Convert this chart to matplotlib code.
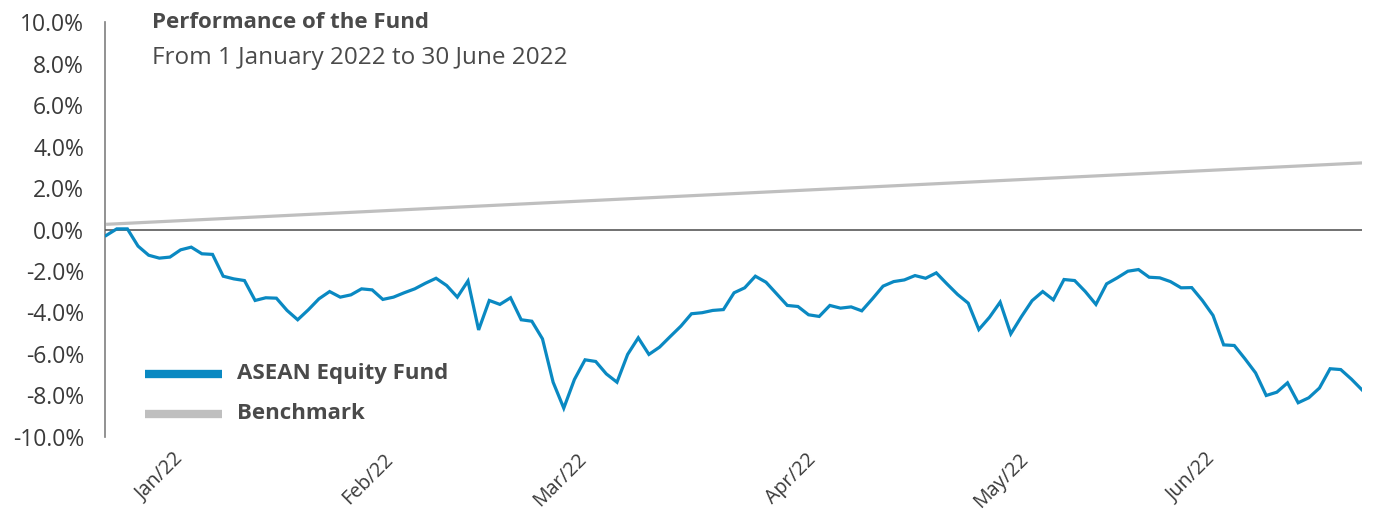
import matplotlib
matplotlib.use("Agg")
import matplotlib.pyplot as plt
from matplotlib.lines import Line2D

plt.rcParams['font.family'] = ['Open Sans', 'DejaVu Sans']

# ---- data (percent returns) ----
fund = [
    -0.29, 0.03, 0.03, -0.80, -1.24, -1.38, -1.33, -0.98, -0.85, -1.17,
    -1.20, -2.25, -2.38, -2.46, -3.42, -3.29, -3.31, -3.90, -4.35, -3.87,
    -3.34, -2.99, -3.26, -3.15, -2.86, -2.91, -3.37, -3.26, -3.05, -2.86,
    -2.59, -2.35, -2.70, -3.26, -2.48, -4.84, -3.42, -3.61, -3.29, -4.35,
    -4.42, -5.27, -7.36, -8.61, -7.23, -6.28, -6.36, -6.96, -7.36, -6.02,
    -5.22, -6.02, -5.67, -5.16, -4.66, -4.06, -4.01, -3.90, -3.86, -3.05,
    -2.81, -2.25, -2.54, -3.10, -3.66, -3.71, -4.11, -4.19, -3.66, -3.79,
    -3.73, -3.92, -3.34, -2.73, -2.51, -2.43, -2.22, -2.35, -2.09, -2.62,
    -3.13, -3.55, -4.82, -4.23, -3.50, -5.03, -4.20, -3.43, -2.99, -3.39,
    -2.41, -2.46, -2.99, -3.61, -2.62, -2.33, -2.01, -1.93, -2.30, -2.33,
    -2.51, -2.81, -2.80, -3.42, -4.14, -5.56, -5.59, -6.23, -6.91, -8.00,
    -7.84, -7.39, -8.35, -8.11, -7.64, -6.71, -6.75, -7.21, -7.73,
]
bench_start = 0.25
bench_end = 3.21

month_labels = ["Jan/22", "Feb/22", "Mar/22", "Apr/22", "May/22", "Jun/22"]
y_ticks = [10, 8, 6, 4, 2, 0, -2, -4, -6, -8, -10]

series_names = ["ASEAN Equity Fund", "Benchmark"]

# ---- style ----
BLUE = "#0a89c2"
GREY = "#bfbfbf"
TXT = "#4a4a4a"

fig = plt.figure(figsize=(13.73, 5.12), dpi=100)
ax = fig.add_axes([0.0765, 0.1465, 0.9155, 0.8105])

n = len(fund)
xs = list(range(n))
ax.plot([0, n - 1], [bench_start, bench_end], color=GREY, lw=2.3, solid_capstyle='butt', zorder=2)
ax.axhline(0, color="#595959", lw=1.2, zorder=3)
ax.plot(xs, fund, color=BLUE, lw=2.3, solid_joinstyle='miter', zorder=4)

ax.set_xlim(-0.1, n - 1)
ax.set_ylim(-10, 10)

for s in ["top", "right", "bottom"]:
    ax.spines[s].set_visible(False)
ax.spines["left"].set_color("#7f7f7f")
ax.spines["left"].set_linewidth(1.2)

ax.set_yticks(y_ticks)
ax.set_yticklabels([f"{v:.1f}%" for v in y_ticks])
ax.tick_params(axis='y', length=0, pad=15, labelsize=16.5, labelcolor="#3a3a3a")

tick_pos = [6.3, 26.0, 44.2, 65.8, 85.7, 103.3]
ax.set_xticks(tick_pos)
ax.set_xticklabels(month_labels, rotation=45, ha='right', va='top', rotation_mode='anchor')
ax.tick_params(axis='x', length=0, pad=9, labelsize=14.2, labelcolor="#3a3a3a")

# title
fig.text(152 / 1373, 1 - 23 / 512, "Performance of the Fund", fontsize=16,
         fontweight='bold', color=TXT, va='center', ha='left')
fig.text(152 / 1373, 1 - 58 / 512, "From 1 January 2022 to 30 June 2022", fontsize=17.5,
         color=TXT, va='center', ha='left')

# legend
for i, (name, col) in enumerate(zip(series_names, [BLUE, GREY])):
    yy = 1 - (374 + 39.5 * i) / 512
    fig.add_artist(Line2D([145 / 1373, 222 / 1373], [yy, yy], color=col, lw=6,
                          solid_capstyle='butt'))
    fig.text(237 / 1373, yy, name, fontsize=16, fontweight='bold', color=TXT,
             va='center', ha='left')

fig.savefig("out.png", dpi=100)
